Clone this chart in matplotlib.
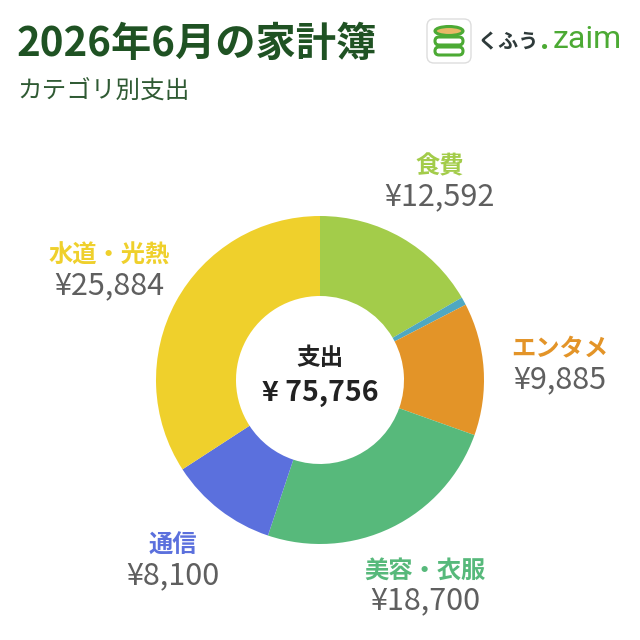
import matplotlib
matplotlib.use("Agg")
import matplotlib.pyplot as plt
from matplotlib.patches import FancyBboxPatch, Ellipse
import numpy as np

plt.rcParams['font.family'] = ['Noto Sans CJK JP', 'DejaVu Sans']

title = "2026年6月の家計簿"
subtitle = "カテゴリ別支出"
categories = ["食費", "", "エンタメ", "美容・衣服", "通信", "水道・光熱"]
values = [12592, 595, 9885, 18700, 8100, 25884]
value_labels = ["¥12,592", "", "¥9,885", "¥18,700", "¥8,100", "¥25,884"]
colors = ["#A3CC4A", "#4FA8C1", "#E39428", "#57B97B", "#5B70DD", "#EFD02C"]
center_title = "支出"
center_value = "¥ 75,756"

fig = plt.figure(figsize=(6.4, 6.4), dpi=100)
ax = fig.add_axes([0, 0, 1, 1])

cx, cy, R, r_in = 320, 260, 164, 84
ax.pie(values, colors=colors, startangle=90, counterclock=False,
       center=(cx, cy), radius=R, frame=True,
       wedgeprops=dict(width=R - r_in, linewidth=0))
ax.set_xlim(0, 640)
ax.set_ylim(0, 640)
ax.set_aspect('equal')
ax.axis('off')

# labels
total = sum(values)
cum = 0
rx, ry = 240, 229
for cat, val, vl, col in zip(categories, values, value_labels, colors):
    mid = (cum + val / 2) / total * 2 * np.pi
    cum += val
    if not cat:
        continue
    lx = cx + rx * np.sin(mid)
    ly = cy + ry * np.cos(mid)
    ax.text(lx, ly + 15, cat, ha='center', va='center', fontsize=17.5,
            fontweight='bold', color=col)
    ax.text(lx, ly - 15, vl, ha='center', va='center', fontsize=22,
            color='#5f5f5f')

# center text
ax.text(cx, cy + 22, center_title, ha='center', va='center', fontsize=17,
        fontweight='bold', color='#222222')
ax.text(cx, cy - 13, center_value, ha='center', va='center', fontsize=20.5,
        fontweight='bold', color='#222222')

# title
ax.text(17, 596, title, ha='left', va='center', fontsize=29,
        fontweight='bold', color='#1F5223')
ax.text(17, 548, subtitle, ha='left', va='center', fontsize=17.7,
        color='#2F5A33')

# logo
ax.add_patch(FancyBboxPatch((427, 577), 44, 44, boxstyle="round,pad=0,rounding_size=7",
                            facecolor='white', edgecolor='#DDDDDD', linewidth=1))
for yy in [589, 599]:
    ax.add_patch(FancyBboxPatch((435, yy - 4), 28, 8, boxstyle="round,pad=0,rounding_size=4",
                                facecolor='white', edgecolor='#4CAA34', linewidth=2.2))
ax.add_patch(Ellipse((449, 609), 28, 9, facecolor='#E8B866', edgecolor='#4CAA34', linewidth=2.2))
ax.text(478, 598, "くふう", ha='left', va='center', fontsize=14.5,
        fontweight='bold', color='#2E3A3A')
ax.text(540, 600, ".", ha='left', va='center', fontsize=23, fontweight='bold',
        color='#4CAA34', family=['Roboto', 'DejaVu Sans'])
ax.text(553, 600, "zaim", ha='left', va='center', fontsize=23,
        color='#4CAA34', family=['Roboto', 'DejaVu Sans'])

fig.savefig("out.png", dpi=100, facecolor='white')
